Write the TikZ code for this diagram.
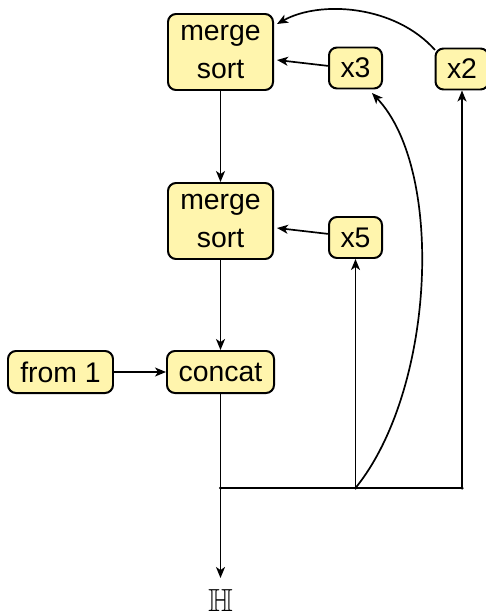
\documentclass[tikz,border=0pt]{standalone}
\usepackage{amssymb}
\usepackage{fontspec}
\setmainfont{Liberation Sans}
\usetikzlibrary{arrows.meta}
\definecolor{boxfill}{RGB}{255,245,173}
\tikzset{
  box/.style={draw=black, line width=2pt, fill=boxfill, rounded corners=8bp,
    align=center, inner sep=0pt, font=\fontsize{28.5}{38.5}\selectfont},
  bigbox/.style={box, minimum width=105bp, minimum height=76bp},
  smallbox/.style={box, minimum width=53bp, minimum height=41bp},
  widebox/.style={box, minimum height=42bp},
  conn/.style={line width=1.7pt, -{Stealth[length=11pt,width=9pt,inset=3pt]}},
  plain/.style={line width=1.7pt},
  dot/.style={circle, fill=black, inner sep=0pt, minimum size=3.5pt}
}
\begin{document}
\begin{tikzpicture}[x=1bp,y=-1bp]
\useasboundingbox (0,0) rectangle (486,615);
\node[bigbox] (ms1) at (220.5,52) {merge\\sort};
\node[bigbox] (ms2) at (220.5,221) {merge\\sort};
\node[smallbox] (x3) at (355.5,68) {x3};
\node[smallbox] (x2) at (462,69) {x2};
\node[smallbox] (x5) at (355.5,237.5) {x5};
\node[widebox, minimum width=105bp] (from) at (60.5,372) {from 1};
\node[widebox, minimum width=107bp] (concat) at (220.5,372) {concat};
\node[font=\fontsize{32}{32}\selectfont] (H) at (220.5,601) {$\mathbb{H}$};
\node[dot] (j0) at (220.5,488) {};
\node[dot] (j1) at (355.5,488) {};
\node[dot] (j2) at (462,488) {};
\coordinate (ms1e1) at (277,60);
\coordinate (ms1e2) at (277,24);
\coordinate (ms2e) at (277,228);
\coordinate (x3w) at (329,66);
\coordinate (x5w) at (329,234);
\coordinate (x2nw) at (435,50);
\coordinate (x3s) at (372,93);
\coordinate (Htop) at (220.5,578);

\draw[conn] (ms1) -- (ms2);
\draw[conn] (ms2) -- (concat);
\draw[conn] (from) -- (concat);
\draw[conn] (x3w) -- (ms1e1);
\draw[conn] (x5w) -- (ms2e);
\draw[conn] (x2nw) .. controls (395,5) and (320,0) .. (ms1e2);
\draw[plain] (concat) -- (j0.center);
\draw[conn] (j0.center) -- (Htop);
\draw[plain] (j0.center) -- (j2.center);
\draw[conn] (j1.center) -- (x5);
\draw[conn] (j2.center) -- (x2);
\draw[conn] (j1.center) .. controls (435,390) and (445,170) .. (x3s);
\end{tikzpicture}
\end{document}
